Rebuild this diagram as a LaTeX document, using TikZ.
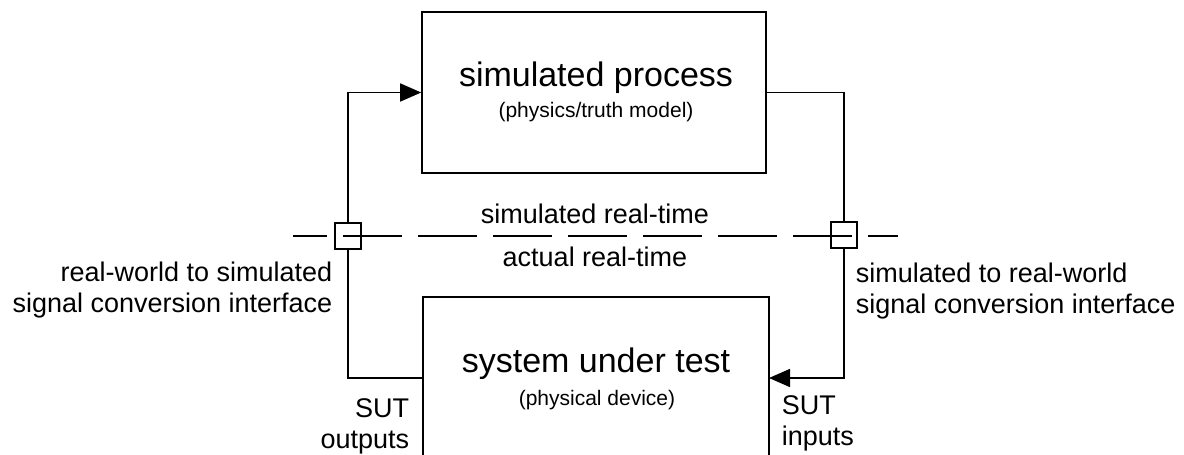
\documentclass[tikz,border=0pt]{standalone}
\usepackage{fontspec}
\setmainfont{Liberation Sans}
\usetikzlibrary{arrows.meta,positioning}
\newcommand{\bigSize}{\fontsize{34}{40}\selectfont}
\newcommand{\midSize}{\fontsize{27}{31}\selectfont}
\newcommand{\smallSize}{\fontsize{21}{25}\selectfont}

\begin{document}
\begin{tikzpicture}[x=1pt, y=-1pt, line width=1.6pt,
		every node/.style={inner sep=0pt},
		block/.style={draw},
		iface/.style={draw, fill=white, minimum size=26pt},
		sig/.style={-{Triangle[length=21pt,width=18pt]}},
		timeline/.style={line width=2pt, dash pattern=on 59pt off 16pt, dash phase=25pt}]
		\clip (0,0) rectangle (1184,455);
		% blocks
		\node[block, minimum width=344pt, minimum height=161pt] (proc) at (594,92.5) {};
		\node[block, minimum width=346pt, minimum height=190pt] (sut) at (596,392) {};
		\node[anchor=base, font=\bigSize] (procname) at (596,86) {simulated process};
		\node[anchor=base, font=\smallSize] (procnote) at (596,117) {(physics/truth model)};
		\node[anchor=base, font=\bigSize] (sutname) at (596,372) {system under test};
		\node[anchor=base, font=\smallSize] (sutnote) at (597,405) {(physical device)};
		% interfaces
		\node[iface] (ifl) at (348,236) {};
		\node[iface] (ifr) at (844,235) {};
		\coordinate (sutout) at (423,378);
		\coordinate (sutin) at (769,378);
		\draw (sutout) -| (ifl.south);
		\draw[sig] (ifl.north) |- (proc.west);
		\draw (proc.east) -| (ifr.north);
		\draw[sig] (ifr.south) |- (sutin);
		% time boundary
		\coordinate (tl) at (293,236);
		\coordinate (tr) at (898,236);
		\draw[timeline] (tl) -- (tr);
		\node[anchor=base, font=\midSize] (simtime) at (595,223) {simulated real-time};
		\node[anchor=base, font=\midSize] (acttime) at (595,266) {actual real-time};
		% labels (base = last line)
		\node[anchor=base east, align=right, font=\midSize] (convl) at (333,312) {real-world to simulated\\signal conversion interface};
		\node[anchor=base west, align=left, font=\midSize] (convr) at (855,313) {simulated to real-world\\signal conversion interface};
		\node[anchor=base east, align=right, font=\midSize] (outs) at (410,448) {SUT\\outputs};
		\node[anchor=base west, align=left, font=\midSize] (ins) at (781,445) {SUT\\inputs};
	\end{tikzpicture}
\end{document}
